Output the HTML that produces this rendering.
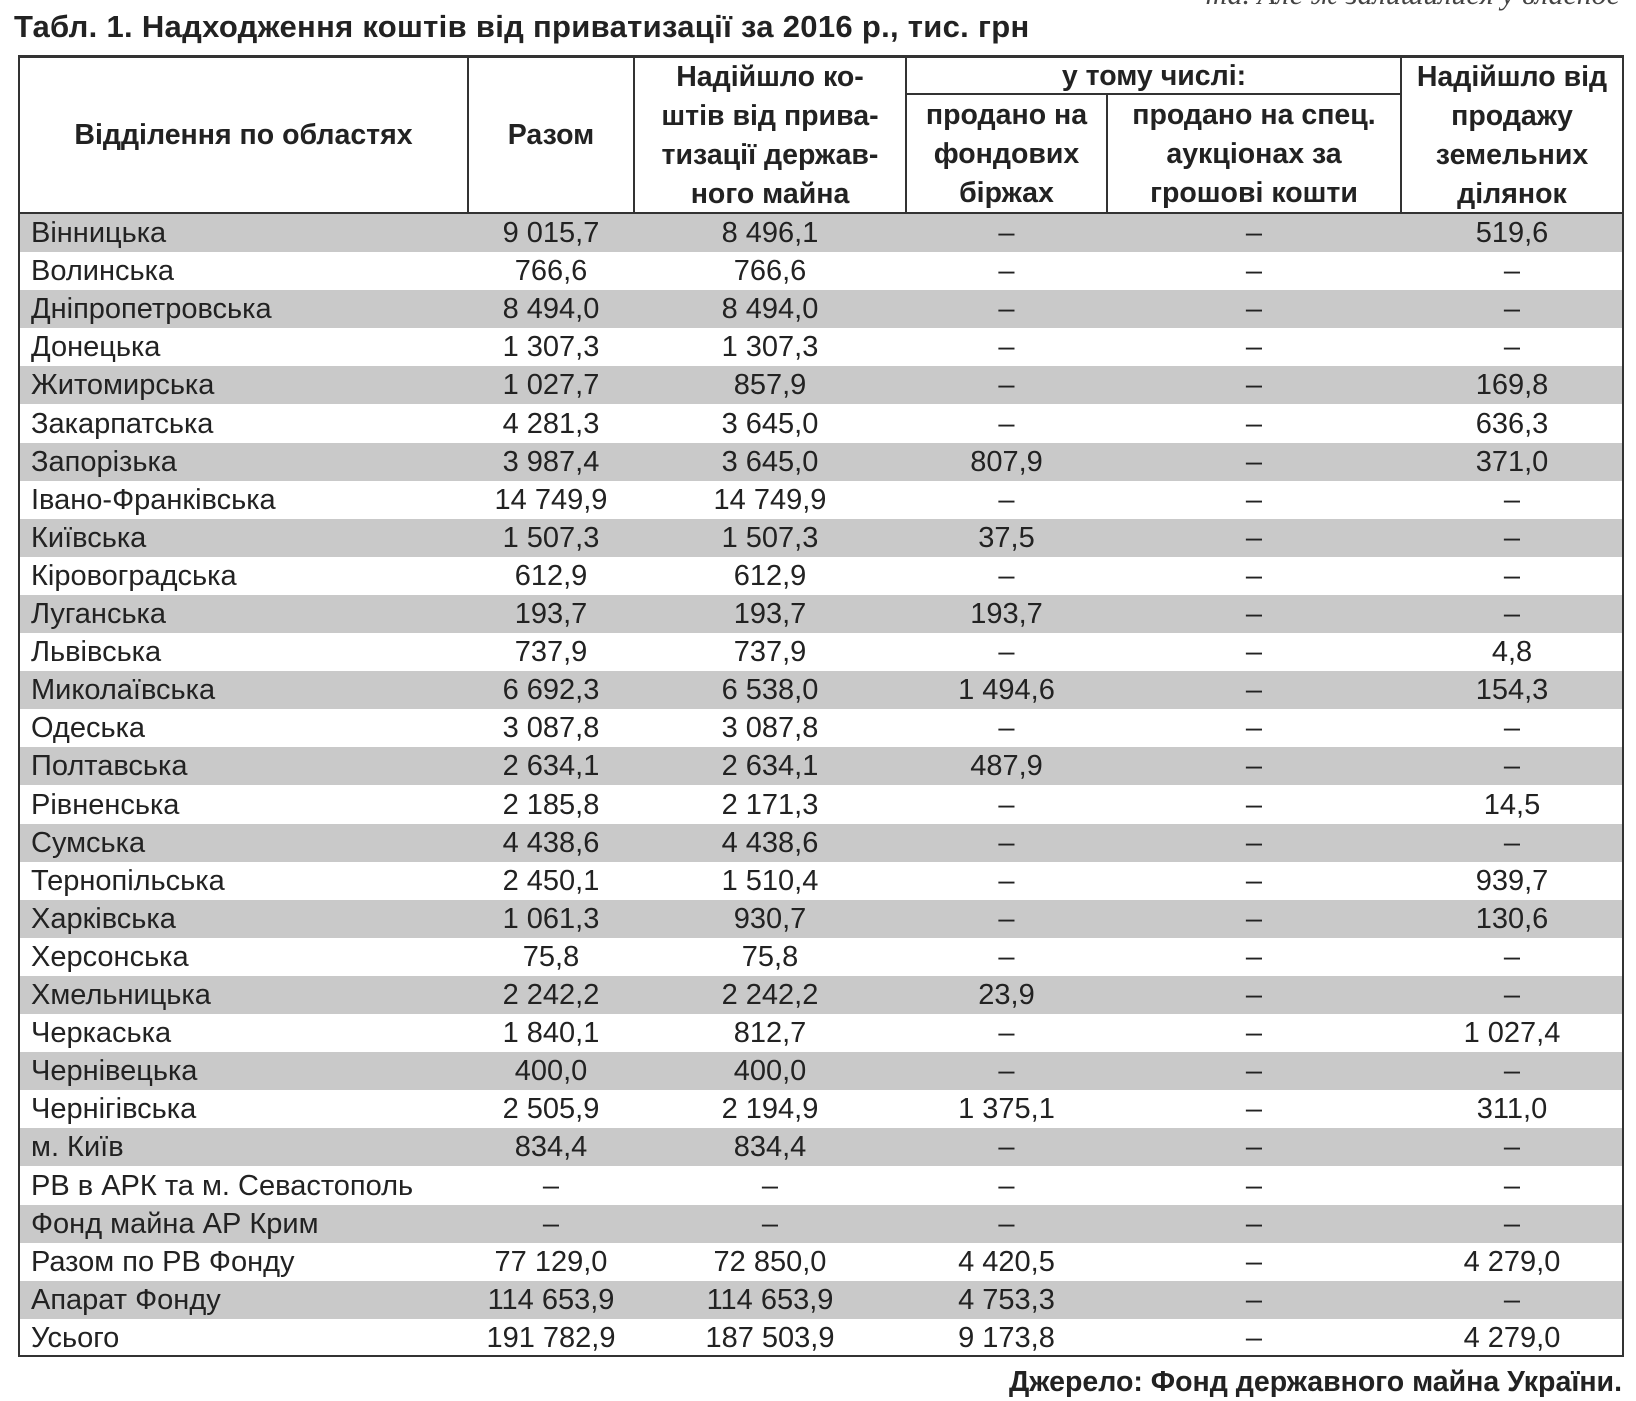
<!DOCTYPE html>
<html><head><meta charset="utf-8">
<style>
body{margin:0;width:1636px;height:1401px;background:#fff;position:relative;overflow:hidden;font-family:"Liberation Sans",sans-serif;color:#222}
.abs{position:absolute}
#title{left:14px;top:9px;font-size:31px;font-weight:bold;letter-spacing:0.3px}
#topnote{right:16px;top:-22px;font-family:"Liberation Serif",serif;font-style:italic;font-size:30px;color:#444}
#tbl{left:18px;top:55px;width:1606px;height:1302px;border:2px solid #333;border-top:3px solid #333;box-sizing:border-box}
.h{font-weight:bold;font-size:28.5px;text-align:center;line-height:39px;display:flex;align-items:center;justify-content:center}
.vl{width:2px;background:#333}
.row{left:0;width:100%;height:38.1px;font-size:29px;line-height:38px}
.row.g{background:#c9c9c9}
.c{position:absolute;top:0;text-align:center}
#source{right:14px;top:1366px;font-size:28.5px;font-weight:bold}
</style></head><body>
<div id="topnote" class="abs">та. Але ж залишилися у власнос</div>
<div id="title" class="abs">Табл. 1. Надходження коштів від приватизації за 2016 р., тис. грн</div>
<div id="tbl" class="abs">
  <div class="abs h" style="left:0;top:0;width:447px;height:155px">Відділення по областях</div>
  <div class="abs h" style="left:449px;top:0;width:164px;height:155px">Разом</div>
  <div class="abs h" style="left:615px;top:0;width:270px;height:155px">Надійшло ко-<br>штів від прива-<br>тизації держав-<br>ного майна</div>
  <div class="abs h" style="left:887px;top:0;width:494px;height:36px">у тому числі:</div>
  <div class="abs h" style="left:887px;top:37px;width:199px;height:118px">продано на<br>фондових<br>біржах</div>
  <div class="abs h" style="left:1088px;top:37px;width:292px;height:118px">продано на спец.<br>аукціонах за<br>грошові кошти</div>
  <div class="abs h" style="left:1382px;top:0;width:220px;height:155px">Надійшло від<br>продажу<br>земельних<br>ділянок</div>
  <div class="abs vl" style="left:447px;top:0;height:155px"></div>
  <div class="abs vl" style="left:613px;top:0;height:155px"></div>
  <div class="abs vl" style="left:885px;top:0;height:155px"></div>
  <div class="abs vl" style="left:1086px;top:36px;height:119px"></div>
  <div class="abs vl" style="left:1380px;top:0;height:155px"></div>
  <div class="abs" style="left:885px;top:35px;width:497px;height:2px;background:#333"></div>
  <div class="abs" style="left:0;top:154px;width:100%;height:2px;background:#333"></div>
  <div id="body" class="abs" style="left:0;top:156px;width:100%"></div>
</div>
<div id="source" class="abs">Джерело: Фонд державного майна України.</div>
<script>
const regions=["Вінницька","Волинська","Дніпропетровська","Донецька","Житомирська","Закарпатська","Запорізька","Івано-Франківська","Київська","Кіровоградська","Луганська","Львівська","Миколаївська","Одеська","Полтавська","Рівненська","Сумська","Тернопільська","Харківська","Херсонська","Хмельницька","Черкаська","Чернівецька","Чернігівська","м. Київ","РВ в АРК та м. Севастополь","Фонд майна АР Крим","Разом по РВ Фонду","Апарат Фонду","Усього"];
const totals=["9 015,7","766,6","8 494,0","1 307,3","1 027,7","4 281,3","3 987,4","14 749,9","1 507,3","612,9","193,7","737,9","6 692,3","3 087,8","2 634,1","2 185,8","4 438,6","2 450,1","1 061,3","75,8","2 242,2","1 840,1","400,0","2 505,9","834,4","–","–","77 129,0","114 653,9","191 782,9"];
const stateProp=["8 496,1","766,6","8 494,0","1 307,3","857,9","3 645,0","3 645,0","14 749,9","1 507,3","612,9","193,7","737,9","6 538,0","3 087,8","2 634,1","2 171,3","4 438,6","1 510,4","930,7","75,8","2 242,2","812,7","400,0","2 194,9","834,4","–","–","72 850,0","114 653,9","187 503,9"];
const stock=["–","–","–","–","–","–","807,9","–","37,5","–","193,7","–","1 494,6","–","487,9","–","–","–","–","–","23,9","–","–","1 375,1","–","–","–","4 420,5","4 753,3","9 173,8"];
const auctions=regions.map(()=>"–");
const land=["519,6","–","–","–","169,8","636,3","371,0","–","–","–","–","4,8","154,3","–","–","14,5","–","939,7","130,6","–","–","1 027,4","–","311,0","–","–","–","4 279,0","–","4 279,0"];
const cols=[[449,164],[615,270],[887,199],[1088,292],[1382,220]];
const body=document.getElementById('body');
const RH=38.1;
regions.forEach((r,i)=>{
  const row=document.createElement('div');
  row.className='abs row'+(i%2===0?' g':'');
  row.style.top=(i*RH)+'px';
  
  
  const n=document.createElement('div');
  n.className='c';n.style.left='11px';n.style.textAlign='left';n.textContent=r;
  
  
  row.appendChild(n);
  [totals,stateProp,stock,auctions,land].forEach((arr,j)=>{
    const c=document.createElement('div');
    c.className='c';c.style.left=cols[j][0]+'px';c.style.width=cols[j][1]+'px';
    c.textContent=arr[i];
    
    
    row.appendChild(c);
  });
  body.appendChild(row);
});
</script>
</body></html>
